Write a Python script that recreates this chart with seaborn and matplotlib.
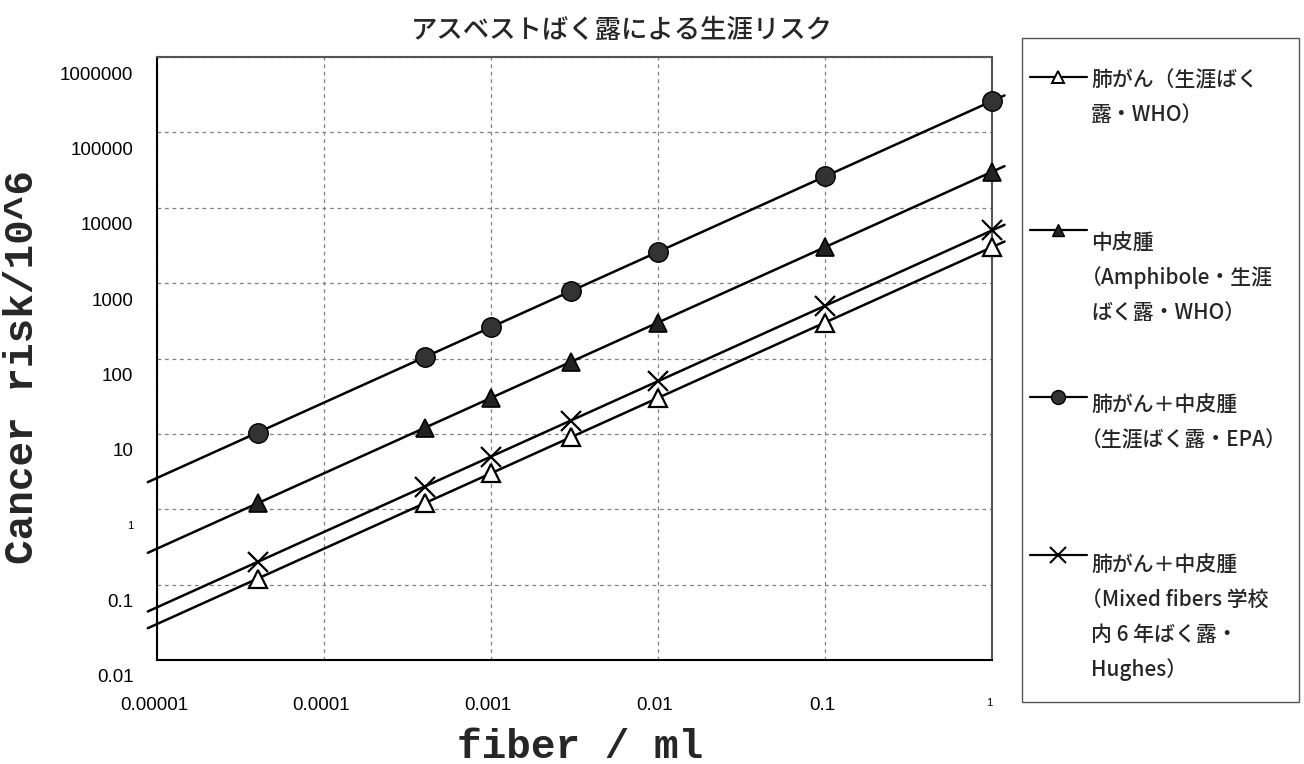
import numpy as np
import pandas as pd
import matplotlib
matplotlib.use("Agg")
import matplotlib.pyplot as plt
import matplotlib.transforms as mtransforms
from matplotlib.lines import Line2D
from matplotlib.patches import Rectangle
from matplotlib.ticker import FixedLocator, FixedFormatter, NullLocator
import seaborn as sns

# data
fiber = [0.00004, 0.0004, 0.001, 0.003, 0.01, 0.1, 1]
lung_who = [0.12, 1.2, 3, 9, 30, 300, 3000]
meso_who = [1.2, 12, 30, 90, 300, 3000, 30000]
lung_meso_epa = [10.4, 104, 260, 780, 2600, 26000, 260000]
lung_meso_hughes = [0.2, 2, 5, 15, 50, 500, 5000]

series_names = [
    "肺がん（生涯ばく\n露・WHO）",
    "中皮腫\n（Amphibole・生涯\nばく露・WHO）",
    "肺がん＋中皮腫\n（生涯ばく露・EPA）",
    "肺がん＋中皮腫\n（Mixed fibers 学校\n内 6 年ばく露・\nHughes）",
]
series_values = [lung_who, meso_who, lung_meso_epa, lung_meso_hughes]

x_ticks = [0.00001, 0.0001, 0.001, 0.01, 0.1, 1]
x_ticklabels = ["0.00001", "0.0001", "0.001", "0.01", "0.1", "1"]
y_ticks = [0.01, 0.1, 1, 10, 100, 1000, 10000, 100000, 1000000]
y_ticklabels = ["0.01", "0.1", "1", "10", "100", "1000", "10000", "100000", "1000000"]

title = "アスベストばく露による生涯リスク"
xlabel = "fiber / ml"
ylabel = "Cancer risk/10^6"

# marker styles: (marker, facecolor, size, edge width)
styles = [
    ("^", "white", 13, 1.6),
    ("^", "#222222", 13, 1.2),
    ("o", "#333333", 14, 1.0),
    ("x", "black", 14, 1.6),
]
legend_styles = [
    ("^", "white", 9, 1.4),
    ("^", "#222222", 9, 1.0),
    ("o", "#333333", 10, 1.0),
    ("x", "black", 11, 1.5),
]

sns.set_theme(style="white")
plt.rcParams["font.family"] = ["Noto Sans CJK JP", "DejaVu Sans"]

fig = plt.figure(figsize=(13.04, 7.64), dpi=100)
W, H = 1304, 764
ax = fig.add_axes([157 / W, 1 - 660 / H, (992 - 157) / W, (660 - 57) / H])
ax.set_xscale("log")
ax.set_yscale("log")
ax.set_xlim(1e-5, 1)
ax.set_ylim(0.01, 1e6)

# power-law trendlines, extended a little past the axes like the original
x_ext = np.logspace(-5.055, 0.075, 50)
for vals, (mk, fc, ms, mew) in zip(series_values, styles):
    slope, icpt = np.polyfit(np.log10(fiber), np.log10(vals), 1)
    trend = pd.DataFrame({"x": x_ext, "y": 10 ** (icpt + slope * np.log10(x_ext))})
    sns.lineplot(data=trend, x="x", y="y", ax=ax, color="black", linewidth=1.8,
                 estimator=None, sort=True, legend=False).lines[-1].set_clip_on(False)
    ax.plot(fiber, vals, linestyle="none", marker=mk, markersize=ms,
            markerfacecolor=fc, markeredgecolor="black", markeredgewidth=mew,
            color="black", clip_on=False, zorder=5)

ax.set_xlabel("")
ax.set_ylabel("")
ax.xaxis.set_major_locator(FixedLocator(x_ticks))
ax.xaxis.set_major_formatter(FixedFormatter(x_ticklabels))
ax.yaxis.set_major_locator(FixedLocator(y_ticks))
ax.yaxis.set_major_formatter(FixedFormatter(y_ticklabels))
ax.xaxis.set_minor_locator(NullLocator())
ax.yaxis.set_minor_locator(NullLocator())
ax.tick_params(axis="both", length=0, labelsize=13.5, colors="black")
ax.tick_params(axis="y", pad=17)
ax.tick_params(axis="x", pad=27)
for lab in ax.get_xticklabels() + ax.get_yticklabels():
    lab.set_family(["Liberation Sans", "DejaVu Sans"])
    if lab.get_text() == "1":
        lab.set_fontsize(8)
ydown = mtransforms.ScaledTranslation(0, -16 / 100, fig.dpi_scale_trans)
for lab in ax.get_yticklabels():
    lab.set_transform(lab.get_transform() + ydown)
xleft = mtransforms.ScaledTranslation(-3 / 100, 0, fig.dpi_scale_trans)
for lab in ax.get_xticklabels():
    lab.set_transform(lab.get_transform() + xleft)

ax.grid(True, which="major", color="#808080", linestyle=(0, (3, 3)), linewidth=0.9)
for sp in ax.spines.values():
    sp.set_color("black")
    sp.set_linewidth(1.5)
ax.spines["right"].set_color("#555555")
ax.spines["top"].set_color("#555555")

fig.text(622 / W, 1 - 31 / H, title, ha="center", va="center", fontsize=19,
         weight="medium")
fig.text(580 / W, 1 - 747 / H, xlabel, ha="center", va="center", fontsize=29.5,
         family="Liberation Mono", weight="bold")
fig.text(22 / W, 1 - 367 / H, ylabel, ha="center", va="center", rotation=90,
         fontsize=29.5, family="Liberation Mono", weight="bold")

# legend box drawn by hand
fig.add_artist(Rectangle((1022 / W, 1 - 702 / H), (1299 - 1022) / W, (702 - 38) / H,
                         transform=fig.transFigure, facecolor="white",
                         edgecolor="#555555", linewidth=1.0))
sample_y = [77, 230, 397, 555]
text_y = [80, 243, 405, 565]
leg_fs = 15
line_step = 35
for name, (mk, fc, ms, mew), sy, ty in zip(series_names, legend_styles, sample_y, text_y):
    fig.add_artist(Line2D([1030 / W, 1087 / W], [1 - sy / H, 1 - sy / H],
                          transform=fig.transFigure, color="black", linewidth=1.6))
    fig.add_artist(Line2D([1058 / W], [1 - sy / H], transform=fig.transFigure,
                          linestyle="none", marker=mk, markersize=ms,
                          markerfacecolor=fc, markeredgecolor="black",
                          markeredgewidth=mew, color="black"))
    for i, line in enumerate(name.split("\n")):
        # leading full-width bracket is set tight, as in the original
        x0 = 1091 - (0.5 * leg_fs * 100 / 72 if line.startswith("（") else 0)
        fig.text(x0 / W, 1 - (ty + i * line_step) / H, line, ha="left",
                 va="center", fontsize=leg_fs, weight="medium")

fig.savefig("out.png", dpi=100)
